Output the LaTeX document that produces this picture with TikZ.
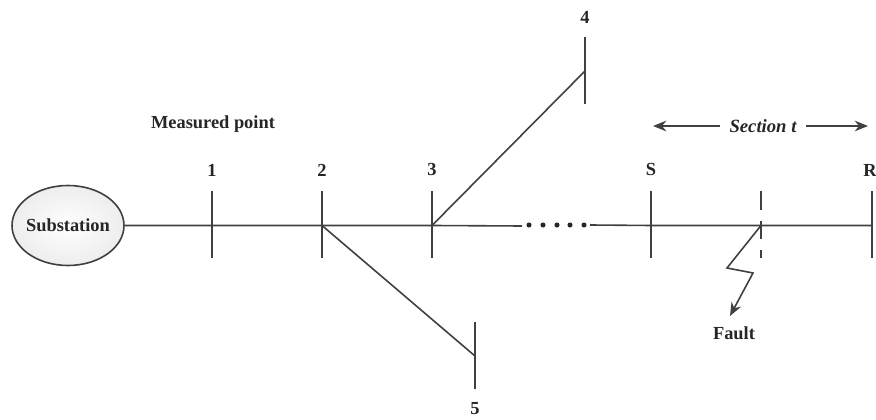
\documentclass[tikz,border=0pt]{standalone}
\usepackage{fontspec}
\setmainfont{Liberation Serif}
\usetikzlibrary{arrows.meta,positioning,shapes.geometric}
\definecolor{ln}{gray}{0.25}
\tikzset{lbl/.style={font=\bfseries\fontsize{13.8}{15}\selectfont,text=black!85,inner sep=0pt},wire/.style={draw=ln,line width=1.2pt},arr/.style={wire,-{Stealth[length=10pt,width=8pt]}},pt/.style={circle,fill=black!85,inner sep=0pt,minimum size=3.8pt}}
\begin{document}
\begin{tikzpicture}[x=0.75pt,y=-0.75pt]
\useasboundingbox(0,0)rectangle(876,420);
\node[ellipse,draw=ln,line width=1.2pt,inner color=white,outer color=gray!14,minimum width=84pt,minimum height=60pt,lbl,inner xsep=-5pt,inner ysep=0pt](sub)at(68,225.5){Substation};
% buses
\foreach\n/\x/\y in{1/212/225.5,2/322/225.5,3/432/225.5,S/651/225.5,F/761/225.5,R/872/225.5,4/585/71,5/475/356}{\coordinate(b\n)at(\x,\y);\coordinate(u\n)at(\x,\y-34);\coordinate(d\n)at(\x,\y+33);}
\foreach\n in{1,2,3,S,R,4,5}\draw[wire](u\n)--(d\n);
\draw[wire,dash pattern=on 14pt off 8pt](uF)--(dF);
\coordinate(dotL)at(522,226);\coordinate(dotR)at(590,225);
\draw[wire](sub)--(b1)--(b2)--(b3)--(dotL);
\draw[wire](dotR)--(bS)--(bF)--(bR);
\draw[wire](b3)--(b4);\draw[wire](b2)--(b5);
\foreach\i/\x in{1/529,2/543,3/557,4/570,5/584}\node[pt](dot\i)at(\x,225){};
% labels
\foreach\n/\x/\y/\t in{1/212/170/1,2/322/170/2,3/432/170/3,S/651/170/S,R/870/170/R,4/585/17/4,5/475/409/5}\node[lbl](l\n)at(\x,\y){\t};
\node[lbl](meas)at(213,124){Measured point};
\node[font=\bfseries\itshape\fontsize{14}{15}\selectfont,text=black!85,inner sep=0pt](sec)at(763,126){Section \textit{t}};
\coordinate(secL)at(720,126);\coordinate(secLe)at(653,126);\coordinate(secR)at(806,126);\coordinate(secRe)at(868,126);
\draw[arr](secL)--(secLe);\draw[arr](secR)--(secRe);
% fault
\coordinate(z1)at(727,268);\coordinate(z2)at(753,273);\coordinate(z3)at(730,316);
\draw[arr](bF)--(z1)--(z2)--(z3);
\node[lbl](fault)at(734,333){Fault};
\end{tikzpicture}
\end{document}
